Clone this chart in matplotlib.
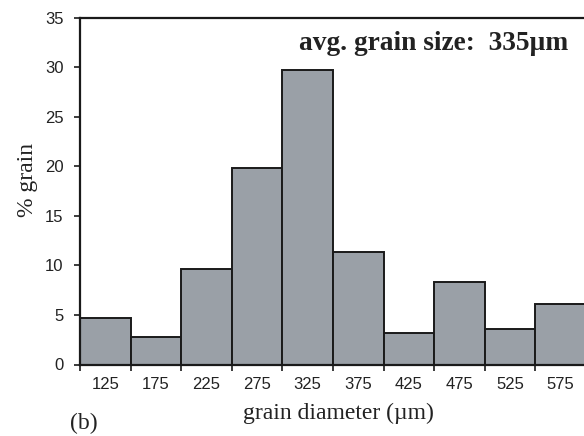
import numpy as np
import matplotlib
matplotlib.use("Agg")
import matplotlib.pyplot as plt
from matplotlib.ticker import FixedLocator, NullFormatter

# bin centres (um) and percentage of grains in each bin
bin_centers = [125, 175, 225, 275, 325, 375, 425, 475, 525, 575]
pct_grain = [4.7, 2.8, 9.6, 19.8, 29.7, 11.3, 3.2, 8.3, 3.6, 6.1]
bin_width = 50
y_ticks = [0, 5, 10, 15, 20, 25, 30, 35]

serif = ["Liberation Serif", "DejaVu Serif"]
sans = ["Liberation Sans", "DejaVu Sans"]

fig = plt.figure(figsize=(5.84, 4.36), dpi=100)
ax = fig.add_axes([80 / 584, 1 - 364.5 / 436, 1 - 80 / 584, 347 / 436])

ax.bar(bin_centers, pct_grain, width=bin_width, color="#9aa0a7",
       edgecolor="#1a1a1a", linewidth=1.4, zorder=2)

ax.set_xlim(100, 598)
ax.set_ylim(0, 35)

# ticks at the bin edges, labels under the bin centres
edges = [c - bin_width / 2 for c in bin_centers] + [bin_centers[-1] + bin_width / 2]
ax.xaxis.set_major_locator(FixedLocator(edges))
ax.xaxis.set_major_formatter(NullFormatter())
ax.xaxis.set_minor_locator(FixedLocator(bin_centers))
ax.set_xticklabels([str(c) for c in bin_centers], minor=True)
ax.tick_params(axis="x", which="major", direction="out", length=4, width=1.2, color="#1a1a1a")
ax.tick_params(axis="x", which="minor", length=0, pad=9)
for lab in ax.get_xticklabels(minor=True):
    lab.set_family(sans)
    lab.set_fontsize(12)
    lab.set_color("#222222")

ax.set_yticks(y_ticks)
ax.tick_params(axis="y", direction="out", length=4, width=1.2, color="#1a1a1a", pad=8)
for lab in ax.get_yticklabels():
    lab.set_family(sans)
    lab.set_fontsize(12)
    lab.set_color("#222222")

for side in ["left", "top", "bottom"]:
    ax.spines[side].set_linewidth(1.6)
    ax.spines[side].set_color("#1a1a1a")
ax.spines["right"].set_visible(False)

ax.set_xlabel("grain diameter (\u00b5m)", family=serif, fontsize=17, color="#222222")
ax.xaxis.set_label_coords((338 - 80) / 504, -(413 - 364.5) / 347)
ax.xaxis.label.set_va("center")

ax.set_ylabel("% grain", family=serif, fontsize=17, color="#222222")
ax.yaxis.set_label_coords(-(80 - 27) / 504, (364.5 - 180) / 347)
ax.yaxis.label.set_va("center")

ax.text((568 - 80) / 504, (364.5 - 43) / 347, "avg. grain size:  335\u00b5m",
        transform=ax.transAxes, ha="right", va="center",
        family=serif, fontsize=19.7, fontweight="bold", color="#222222")

fig.text(84 / 584, 1 - 423 / 436, "(b)", ha="center", va="center",
         family=serif, fontsize=17, color="#222222")

fig.savefig("out.png", dpi=100)
